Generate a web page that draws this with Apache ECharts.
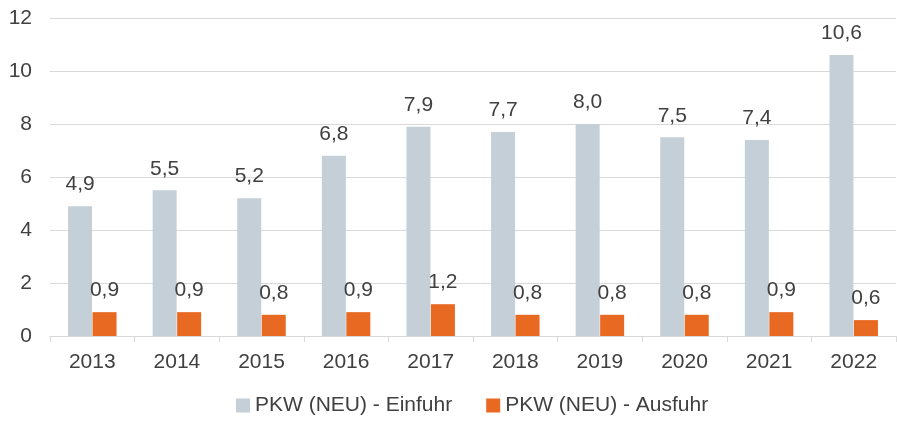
<!DOCTYPE html>
<html>
<head>
<meta charset="utf-8">
<script src="https://cdn.jsdelivr.net/npm/echarts@6/dist/echarts.min.js"></script>
<style>
  html, body { margin: 0; padding: 0; background: #fff; }
  #chart { width: 897px; height: 422px; }
</style>
</head>
<body>
<div id="chart"></div>
<script>
var years = ["2013", "2014", "2015", "2016", "2017", "2018", "2019", "2020", "2021", "2022"];
var einfuhr = [4.9, 5.5, 5.2, 6.8, 7.9, 7.7, 8.0, 7.5, 7.4, 10.6];
var ausfuhr = [0.9, 0.9, 0.8, 0.9, 1.2, 0.8, 0.8, 0.8, 0.9, 0.6];

var font = "Liberation Sans, Arial, sans-serif";
var textColor = "#404040";

function fmt(p) {
  return p.value.toFixed(1).replace(".", ",");
}

var chart = echarts.init(document.getElementById("chart"));
var option = {
  animation: false,
  textStyle: { fontFamily: font, color: textColor },
  grid: { left: 50, right: 1, top: 18, bottom: 86 },
  legend: {
    left: 231,
    bottom: 1,
    itemWidth: 14,
    itemHeight: 14,
    itemGap: 34,
    icon: "rect",
    textStyle: { fontSize: 21, color: textColor, fontFamily: font },
    data: ["PKW (NEU) - Einfuhr", "PKW (NEU) - Ausfuhr"]
  },
  xAxis: {
    type: "category",
    data: years,
    axisLine: { lineStyle: { color: "#d9d9d9", width: 1 } },
    axisTick: { show: true, length: 6, lineStyle: { color: "#d9d9d9" } },
    axisLabel: { fontSize: 21, color: textColor, margin: 16, fontFamily: font }
  },
  yAxis: {
    type: "value",
    min: 0,
    max: 12,
    interval: 2,
    axisLine: { show: false },
    axisTick: { show: false },
    splitLine: { lineStyle: { color: "#d9d9d9", width: 1 } },
    axisLabel: { fontSize: 21, color: textColor, margin: 18, fontFamily: font }
  },
  series: [
    {
      name: "PKW (NEU) - Einfuhr",
      type: "bar",
      data: einfuhr,
      barWidth: 24,
      barGap: "2%",
      itemStyle: { color: "#c5cfd8" },
      label: {
        show: true,
        position: "top",
        distance: 11,
        fontSize: 21,
        color: textColor,
        fontFamily: font,
        formatter: fmt
      }
    },
    {
      name: "PKW (NEU) - Ausfuhr",
      type: "bar",
      data: ausfuhr,
      barWidth: 24,
      itemStyle: { color: "#e86921" },
      label: {
        show: true,
        position: "top",
        distance: 11,
        fontSize: 21,
        color: textColor,
        fontFamily: font,
        formatter: fmt
      }
    }
  ]
};
chart.setOption(option);
</script>
</body>
</html>
